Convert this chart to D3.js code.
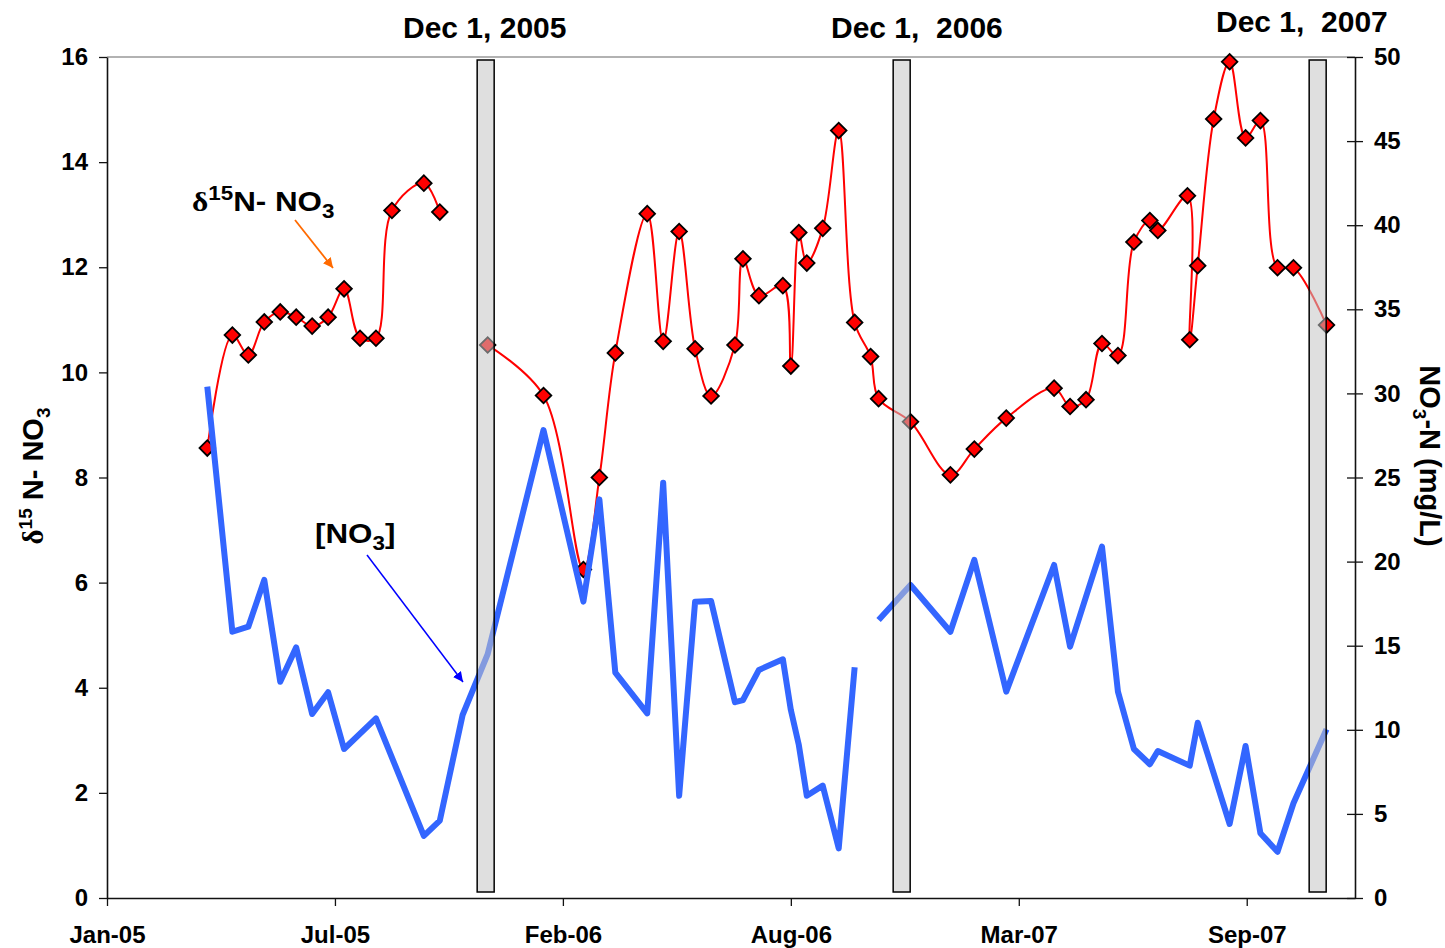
<!DOCTYPE html>
<html>
<head>
<meta charset="utf-8">
<script src="https://cdn.jsdelivr.net/npm/d3@7"></script>
<style>
  body { margin: 0; background: #fff; }
  svg { display: block; font-family: "Liberation Sans", Arial, sans-serif; font-weight: bold; }
</style>
</head>
<body>
<div id="chart"></div>
<script>
// sampling dates and values
const d15nDates = [
  "2005-03-30", "2005-04-21", "2005-05-05", "2005-05-19", "2005-06-02", "2005-06-16",
  "2005-06-30", "2005-07-14", "2005-07-28", "2005-08-11", "2005-08-25", "2005-09-08",
  "2005-10-06", "2005-10-20", "2005-11-09", "2005-12-01", "2006-01-19", "2006-02-23",
  "2006-03-09", "2006-03-23", "2006-04-20", "2006-05-04", "2006-05-18", "2006-06-01",
  "2006-06-15", "2006-07-06", "2006-07-13", "2006-07-27", "2006-08-17", "2006-08-24",
  "2006-08-31", "2006-09-07", "2006-09-21", "2006-10-05", "2006-10-19", "2006-11-02",
  "2006-11-09", "2006-12-07", "2007-01-11", "2007-02-01", "2007-03-01", "2007-04-12",
  "2007-04-26", "2007-05-10", "2007-05-24", "2007-06-07", "2007-06-21", "2007-07-05",
  "2007-07-12", "2007-08-07", "2007-08-09", "2007-08-16", "2007-08-30", "2007-09-13",
  "2007-09-27", "2007-10-10", "2007-10-25", "2007-11-08", "2007-12-07"
];
const d15nValues = [
  8.56, 10.71, 10.33, 10.96, 11.15, 11.05,
  10.88, 11.05, 11.59, 10.65, 10.65, 13.08,
  13.60, 13.05, null, 10.52, 9.56, 6.25,
  8.00, 10.37, 13.02, 10.59, 12.68, 10.45,
  9.55, 10.52, 12.16, 11.46, 11.65, 10.12,
  12.66, 12.08, 12.74, 14.60, 10.95, 10.30,
  9.50, 9.06, 8.05, 8.54, 9.13, 9.70,
  9.35, 9.48, 10.55, 10.32, 12.48, 12.89,
  12.70, 13.36, 10.62, 12.03, 14.82, 15.91,
  14.46, 14.79, 11.99, 11.99, 10.90
];

const no3Dates = [
  "2005-03-30", "2005-04-21", "2005-05-05", "2005-05-19", "2005-06-02", "2005-06-16",
  "2005-06-30", "2005-07-14", "2005-07-28", "2005-08-25", "2005-10-06", "2005-10-20",
  "2005-11-09", "2005-12-01", "2006-01-19", "2006-02-23", "2006-03-09", "2006-03-23",
  "2006-04-20", "2006-05-04", "2006-05-18", "2006-06-01", "2006-06-15", "2006-07-06",
  "2006-07-13", "2006-07-27", "2006-08-17", "2006-08-24", "2006-08-31", "2006-09-07",
  "2006-09-21", "2006-10-05", "2006-10-19", "2006-11-02", "2006-11-09", "2006-12-07",
  "2007-01-11", "2007-02-01", "2007-03-01", "2007-04-12", "2007-04-26", "2007-05-24",
  "2007-06-07", "2007-06-21", "2007-07-05", "2007-07-12", "2007-08-09", "2007-08-16",
  "2007-09-13", "2007-09-27", "2007-10-10", "2007-10-25", "2007-11-08", "2007-12-07"
];
const no3Values = [
  30.4, 15.83, 16.13, 18.91, 12.86, 14.90,
  10.94, 12.23, 8.86, 10.68, 3.69, 4.60,
  10.88, 14.5, 27.82, 17.62, 23.70, 13.40,
  10.98, 24.69, 6.08, 17.62, 17.66, 11.64,
  11.77, 13.56, 14.19, 11.18, 9.10, 6.08,
  6.68, 2.95, 13.72, null, 16.53, 18.61,
  15.83, 20.10, 12.27, 19.80, 14.94, 20.89,
  12.27, 8.86, 7.95, 8.74, 7.87, 10.42,
  4.40, 9.04, 3.85, 2.75, 5.63, 10.03
];

// shaded markers at Dec 1 of each year
const markerDates = ["2005-12-01", "2006-12-01", "2007-12-01"];
const markerLabels = ["Dec 1, 2005", "Dec 1,  2006", "Dec 1,  2007"];

const leftTicks = [0, 2, 4, 6, 8, 10, 12, 14, 16];
const rightTicks = [0, 5, 10, 15, 20, 25, 30, 35, 40, 45, 50];
const xStart = "2005-01-01";
const xEnd = "2008-01-01";
const xTickStepDays = 200;

const width = 1445;
const height = 948;
const margin = { top: 57, right: 90, bottom: 50, left: 107 };

const parse = d3.timeParse("%Y-%m-%d");
const redData = d15nDates.map((d, i) => ({ date: parse(d), value: d15nValues[i] }));
const blueData = no3Dates.map((d, i) => ({ date: parse(d), value: no3Values[i] }));

const x = d3.scaleTime()
  .domain([parse(xStart), parse(xEnd)])
  .range([margin.left, width - margin.right]);
const yLeft = d3.scaleLinear().domain([0, 16]).range([height - margin.bottom, margin.top]);
const yRight = d3.scaleLinear().domain([0, 50]).range([height - margin.bottom, margin.top]);

const svg = d3.select("#chart")
  .append("svg")
  .attr("width", width)
  .attr("height", height);

// arrow heads
const defs = svg.append("defs");
[["arrowOrange", "#ff6a00"], ["arrowBlue", "#0000ff"]].forEach(([id, col]) => {
  defs.append("marker")
    .attr("id", id)
    .attr("viewBox", "0 -5 10 10")
    .attr("refX", 10)
    .attr("refY", 0)
    .attr("markerWidth", 10)
    .attr("markerHeight", 10)
    .attr("markerUnits", "userSpaceOnUse")
    .attr("orient", "auto")
    .append("path")
    .attr("d", "M0,-5L10,0L0,5Z")
    .attr("fill", col);
});

// === Axes ===
svg.append("line")
  .attr("x1", margin.left).attr("x2", width - margin.right)
  .attr("y1", margin.top).attr("y2", margin.top)
  .attr("stroke", "#999").attr("stroke-width", 1.5);

const xTicks = d3.range(0, 6).map(i => d3.timeDay.offset(parse(xStart), i * xTickStepDays));

const xAxis = svg.append("g")
  .attr("transform", `translate(0,${height - margin.bottom})`)
  .call(d3.axisBottom(x).tickValues(xTicks).tickFormat(d3.timeFormat("%b-%y"))
    .tickSize(8).tickSizeOuter(0).tickPadding(20));

const leftAxis = svg.append("g")
  .attr("transform", `translate(${margin.left},0)`)
  .call(d3.axisLeft(yLeft).tickValues(leftTicks).tickSize(8).tickSizeOuter(0).tickPadding(11));

const rightAxis = svg.append("g")
  .attr("transform", `translate(${width - margin.right},0)`)
  .call(d3.axisRight(yRight).tickValues(rightTicks).tickSize(8).tickSizeOuter(0).tickPadding(11));
rightAxis.selectAll(".tick line").attr("x1", -8).attr("x2", 8);

[xAxis, leftAxis, rightAxis].forEach(g => {
  g.select(".domain").attr("stroke", "#111").attr("stroke-width", 1.6);
  g.selectAll(".tick line").attr("stroke", "#111").attr("stroke-width", 1.3);
  g.selectAll(".tick text")
    .attr("fill", "#000")
    .style("font-family", "'Liberation Sans', Arial, sans-serif")
    .style("font-weight", "bold")
    .style("font-size", "24px");
});

// axis titles
svg.append("text")
  .attr("transform", "translate(43,476) rotate(-90)")
  .attr("text-anchor", "middle")
  .style("font-size", "29px")
  .call(t => {
    t.append("tspan").style("font-family", "'Liberation Serif', serif").text("δ");
    t.append("tspan").attr("dy", -11).style("font-size", "19px").text("15");
    t.append("tspan").attr("dy", 11).text(" N- NO");
    t.append("tspan").attr("dy", 7).style("font-size", "19px").text("3");
  });

svg.append("text")
  .attr("transform", "translate(1420,456) rotate(90)")
  .attr("text-anchor", "middle")
  .style("font-size", "29px")
  .call(t => {
    t.append("tspan").text("NO");
    t.append("tspan").attr("dy", 7).style("font-size", "19px").text("3");
    t.append("tspan").attr("dy", -7).text("-N (mg/L)");
  });

// === Draw series ===
const redLine = d3.line()
  .defined(d => d.value !== null)
  .x(d => x(d.date))
  .y(d => yLeft(d.value))
  .curve(d3.curveCatmullRom.alpha(0.5));

svg.append("path")
  .datum(redData)
  .attr("d", redLine)
  .attr("fill", "none")
  .attr("stroke", "#ff0000")
  .attr("stroke-width", 2);

svg.append("g")
  .selectAll("path")
  .data(redData.filter(d => d.value !== null))
  .join("path")
  .attr("transform", d => `translate(${x(d.date)},${yLeft(d.value)}) rotate(45)`)
  .attr("d", d3.symbol(d3.symbolSquare, 122))
  .attr("fill", "#ff0000")
  .attr("stroke", "#000")
  .attr("stroke-width", 1.8);

const blueLine = d3.line()
  .defined(d => d.value !== null)
  .x(d => x(d.date))
  .y(d => yRight(d.value));

svg.append("path")
  .datum(blueData)
  .attr("d", blueLine)
  .attr("fill", "none")
  .attr("stroke", "#3366ff")
  .attr("stroke-width", 6)
  .attr("stroke-linejoin", "round");

// shaded bars on top
const barW = 17;
svg.append("g")
  .selectAll("rect")
  .data(markerDates.map(parse))
  .join("rect")
  .attr("x", d => x(d) - barW / 2 - 2)
  .attr("y", yLeft(16) + 3)
  .attr("width", barW)
  .attr("height", yLeft(0) - yLeft(16) - 9)
  .attr("fill", "#c4c4c4")
  .attr("fill-opacity", 0.55)
  .attr("stroke", "#000")
  .attr("stroke-width", 1.5);

// date labels over bars
const labelPos = [[403, 38], [831, 38], [1216, 32]];
svg.append("g")
  .selectAll("text")
  .data(markerLabels)
  .join("text")
  .attr("x", (d, i) => labelPos[i][0])
  .attr("y", (d, i) => labelPos[i][1])
  .style("font-size", "30px")
  .style("white-space", "pre")
  .text(d => d);

// === Annotations ===
svg.append("text")
  .attr("transform", "translate(192,211) scale(1.12,1)")
  .style("font-size", "28px")
  .call(t => {
    t.append("tspan").style("font-family", "'Liberation Serif', serif").text("δ");
    t.append("tspan").attr("dy", -11).style("font-size", "20px").text("15");
    t.append("tspan").attr("dy", 11).text("N- NO");
    t.append("tspan").attr("dy", 7).style("font-size", "20px").text("3");
  });

svg.append("line")
  .attr("x1", 295).attr("y1", 220).attr("x2", 333).attr("y2", 268)
  .attr("stroke", "#ff6a00").attr("stroke-width", 1.8)
  .attr("marker-end", "url(#arrowOrange)");

svg.append("text")
  .attr("transform", "translate(315,543) scale(1.12,1)")
  .style("font-size", "28px")
  .call(t => {
    t.append("tspan").text("[NO");
    t.append("tspan").attr("dy", 7).style("font-size", "20px").text("3");
    t.append("tspan").attr("dy", -7).text("]");
  });

svg.append("line")
  .attr("x1", 367).attr("y1", 555).attr("x2", 463).attr("y2", 682)
  .attr("stroke", "#0000ff").attr("stroke-width", 1.5)
  .attr("marker-end", "url(#arrowBlue)");
</script>
</body>
</html>
